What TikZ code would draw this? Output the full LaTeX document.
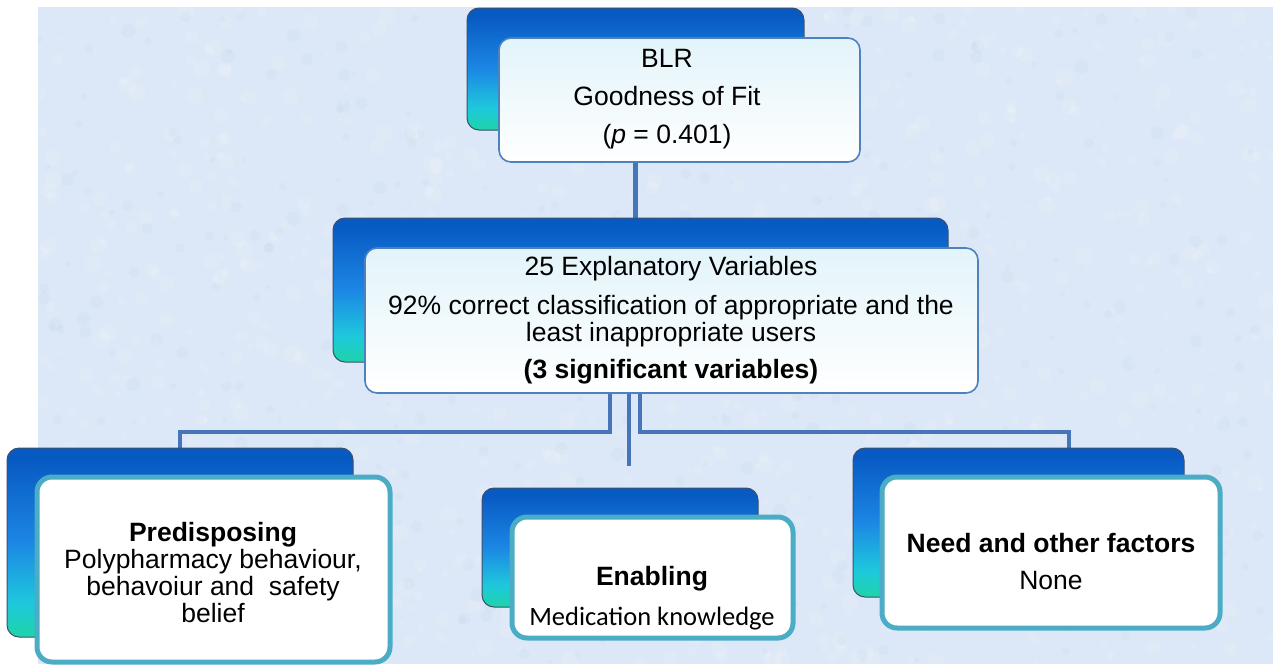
\documentclass[tikz,border=0pt]{standalone}
\usepackage{fontspec}
\setmainfont{Liberation Sans}
\newfontfamily\calibri{Carlito}

% palette
\definecolor{bgblue}{RGB}{220,232,247}
\definecolor{linkblue}{RGB}{70,117,185}
\definecolor{topb}{RGB}{8,90,195}
\definecolor{midb}{RGB}{28,135,228}
\definecolor{cyanb}{RGB}{30,200,220}
\definecolor{tealb}{RGB}{30,212,168}
\definecolor{edgegray}{RGB}{60,80,110}
\definecolor{frameblue}{RGB}{79,129,189}
\definecolor{frameteal}{RGB}{75,172,198}
\definecolor{paleaqua}{RGB}{226,244,250}

% blue-to-teal fill of the rear cards (bottom to top)
\pgfdeclareverticalshading{backgrad}{100bp}{color(0bp)=(tealb); color(25bp)=(tealb);
  color(34bp)=(cyanb); color(50bp)=(midb); color(72bp)=(topb); color(100bp)=(topb)}

\pgfdeclarelayer{bg}
\pgfsetlayers{bg,main}

\tikzset{
  backbox/.style={draw=edgegray, line width=1pt, rounded corners=12pt, shading=backgrad,
    anchor=north west, inner sep=0pt, outer sep=0pt},
  thinbox/.style={draw=frameblue, line width=1.6pt, rounded corners=12pt,
    top color=paleaqua, bottom color=white, anchor=north west, inner sep=0pt, outer sep=0pt},
  thickbox/.style={draw=frameteal, line width=5pt, rounded corners=15pt, fill=white,
    anchor=north west, inner sep=0pt, outer sep=0pt},
  link/.style={draw=linkblue, line width=4.5pt},
  boxtext/.style={align=center, font=\fontsize{26.5}{27}\selectfont, inner sep=0pt},
}

\begin{document}
\begin{tikzpicture}[x=1pt,y=-1pt]
\useasboundingbox (0,0) rectangle (1273,664);

% top level: model fit
\node[backbox, minimum width=337pt, minimum height=122pt] (tb) at (467,8) {};
\node[thinbox, minimum width=361pt, minimum height=124pt] (tf) at (499,38) {};
\node[boxtext] (tt) at (667,99) {BLR\\[11pt]Goodness of Fit\\[11pt](\textit{p} = 0.401)};

% middle level: explanatory variables
\node[backbox, minimum width=615pt, minimum height=144pt] (mb) at (333,218) {};
\node[thinbox, minimum width=613pt, minimum height=145pt] (mf) at (365,248) {};
\node[boxtext] (mt) at (671,320) {25 Explanatory Variables\\[12pt]92\% correct classification of appropriate and the\\least inappropriate users\\[10pt]\textbf{(3 significant variables)}};

% bottom level: predisposing
\node[backbox, minimum width=346pt, minimum height=189pt] (pb) at (7,448) {};
\node[thickbox, minimum width=353pt, minimum height=185pt] (pf) at (37,477) {};
\node[boxtext] (pt) at (213,573) {\textbf{Predisposing}\\Polypharmacy behaviour,\\behavoiur and\ \ safety\\belief};

% bottom level: enabling
\node[backbox, minimum width=276pt, minimum height=119pt] (eb) at (482,488) {};
\node[thickbox, minimum width=281pt, minimum height=121pt] (ef) at (512,517) {};
\node[boxtext] (et) at (652,598) {\textbf{Enabling}\\[13pt]{\calibri Medication knowledge}};

% bottom level: need
\node[backbox, minimum width=331pt, minimum height=149pt] (nb) at (853,448) {};
\node[thickbox, minimum width=338pt, minimum height=151pt] (nf) at (882,477) {};
\node[boxtext] (nt) at (1051,562) {\textbf{Need and other factors}\\[10pt]None};

% branch points of the connectors
\coordinate (lsplit) at (610,432);
\coordinate (rsplit) at (640,432);
\coordinate (rdrop) at (1069,448);
\coordinate (cend) at (629,466);

\begin{pgfonlayer}{bg}
  % textured page
  \fill[white] (0,0) rectangle (1273,664);
  \fill[bgblue] (38,7) rectangle (1273,664);
  \begin{scope}
    \clip (38,7) rectangle (1273,664);
    \pgfmathsetseed{7}
    \foreach \k in {1,...,900}{
      \pgfmathsetmacro{\px}{38+rnd*1235}
      \pgfmathsetmacro{\py}{7+rnd*657}
      \pgfmathsetmacro{\pr}{2+rnd*7}
      \fill[white, opacity=0.12] (\px,\py) circle[radius=\pr];
    }
    \foreach \k in {1,...,400}{
      \pgfmathsetmacro{\px}{38+rnd*1235}
      \pgfmathsetmacro{\py}{7+rnd*657}
      \pgfmathsetmacro{\pr}{2+rnd*5}
      \fill[frameblue, opacity=0.035] (\px,\py) circle[radius=\pr];
    }
  \end{scope}
  % connectors
  \draw[link] (tb.south) -- (tb.south |- mb.north);
  \draw[link] (lsplit |- mf.south) -- (lsplit) -- (lsplit -| pb.north) -- (pb.north);
  \draw[link] (rsplit |- mf.south) -- (rsplit) -- (rsplit -| rdrop) -- (rdrop);
  \draw[link] (cend |- mf.south) -- (cend);
\end{pgfonlayer}
\end{tikzpicture}
\end{document}
